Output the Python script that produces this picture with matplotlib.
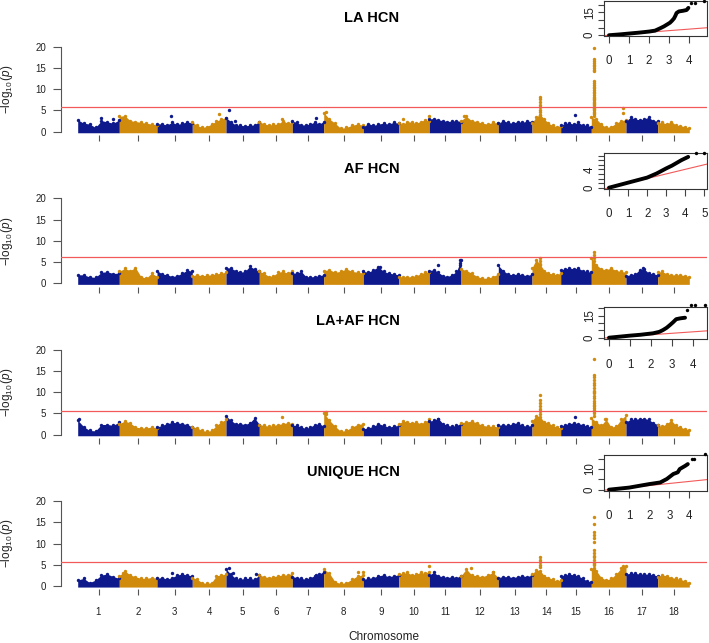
import numpy as np
import matplotlib
matplotlib.use("Agg")
import matplotlib.pyplot as plt

plt.rcParams["font.family"] = ["Liberation Sans", "DejaVu Sans"]
plt.rcParams["mathtext.fontset"] = "custom"
plt.rcParams["mathtext.rm"] = "Liberation Sans"
plt.rcParams["mathtext.it"] = "Liberation Sans:italic"

BLUE = "#0E1A8C"
ORANGE = "#D08A0C"
RED = "#F25A5A"
TXT = "#222222"

# chromosome lengths (arbitrary units)
CHROM_LEN = [41.6, 37.7, 35.3, 33.7, 33.3, 33.0, 31.4, 39.6, 35.4,
             30.6, 31.7, 37.3, 33.7, 28.7, 30.6, 34.7, 31.7, 31.6]
CHROM_LABELS = [str(i) for i in range(1, 19)]

PANELS = ["LA", "AF", "LA+AF", "UNIQUE"]
THRESH = [5.74, 6.1, 5.55, 5.73]

# upper envelope of -log10(p) along each chromosome
LA_ENV = [
    [2.8, 2.0, 1.8, 1.0, 2.6, 2.3, 2.0, 2.8],
    [3.6, 3.8, 2.6, 2.4, 2.2, 2.0, 1.8, 1.6],
    [1.9, 1.8, 1.6, 2.2, 1.7, 2.0, 2.3, 2.0],
    [2.2, 1.5, 1.0, 1.2, 1.8, 2.5, 3.0, 3.2],
    [3.3, 2.4, 1.6, 1.5, 1.4, 1.5, 1.6, 2.4],
    [2.4, 1.8, 1.6, 1.7, 1.8, 2.6, 2.0, 2.2],
    [2.5, 2.2, 1.6, 1.6, 1.8, 2.3, 1.8, 2.4],
    [4.5, 3.0, 2.0, 0.8, 1.0, 1.5, 1.8, 1.5],
    [1.2, 1.9, 1.5, 1.8, 2.0, 1.8, 2.2, 2.0],
    [2.0, 1.8, 2.4, 2.2, 2.0, 2.4, 2.8, 2.6],
    [3.0, 3.1, 2.8, 2.6, 2.4, 2.5, 2.6, 2.4],
    [2.6, 3.6, 2.6, 2.4, 2.0, 1.8, 2.2, 2.0],
    [2.0, 2.6, 2.2, 2.0, 2.4, 2.2, 2.5, 2.4],
    [2.0, 3.5, 4.0, 3.0, 2.0, 1.5, 1.2, 1.4],
    [1.5, 2.0, 2.0, 1.8, 2.2, 1.6, 1.5, 1.2],
    [3.4, 3.0, 1.8, 1.0, 1.2, 2.0, 2.6, 2.8],
    [2.5, 3.4, 3.0, 2.8, 3.0, 3.4, 2.6, 2.5],
    [2.0, 2.2, 1.8, 2.4, 1.6, 1.4, 1.2, 0.8],
]
AF_ENV = [
    [2.0, 2.0, 1.5, 1.4, 2.6, 2.7, 2.3, 2.4],
    [2.8, 3.5, 3.0, 3.7, 1.6, 1.2, 2.4, 1.6],
    [3.0, 2.2, 2.0, 1.6, 1.8, 2.4, 3.1, 2.8],
    [1.8, 2.0, 1.8, 1.9, 2.0, 2.2, 2.4, 2.6],
    [3.7, 3.6, 3.0, 2.6, 2.8, 4.0, 3.4, 2.8],
    [2.8, 2.4, 1.6, 1.8, 2.6, 2.8, 2.4, 3.0],
    [2.4, 2.4, 2.8, 1.6, 1.5, 1.6, 1.8, 2.0],
    [3.0, 3.2, 2.6, 2.8, 3.4, 2.8, 2.6, 2.4],
    [2.8, 2.6, 3.2, 3.9, 2.8, 2.4, 2.2, 2.0],
    [1.5, 1.6, 1.5, 1.6, 1.8, 2.2, 2.6, 2.6],
    [3.0, 3.2, 2.6, 1.8, 1.6, 2.0, 2.8, 5.4],
    [3.4, 3.0, 2.4, 1.6, 1.2, 1.2, 1.6, 2.2],
    [4.2, 3.0, 2.2, 2.0, 2.2, 2.0, 1.8, 2.2],
    [3.6, 5.6, 4.4, 3.0, 2.4, 2.2, 2.0, 2.4],
    [3.2, 3.4, 3.6, 3.4, 3.6, 3.0, 2.8, 2.6],
    [6.0, 4.4, 3.4, 3.2, 3.6, 3.0, 2.8, 2.6],
    [1.8, 2.0, 2.2, 3.2, 3.4, 2.4, 2.2, 2.0],
    [2.6, 2.8, 2.2, 2.0, 2.0, 2.0, 1.8, 1.6],
]
LAAF_ENV = [
    [3.4, 1.9, 1.0, 0.9, 2.4, 2.4, 2.2, 3.0],
    [2.6, 3.2, 2.8, 1.8, 1.6, 1.6, 1.8, 1.6],
    [1.8, 2.2, 2.6, 2.9, 2.8, 2.6, 2.4, 1.8],
    [1.9, 1.6, 1.0, 0.8, 1.0, 2.2, 3.0, 3.6],
    [4.4, 3.4, 2.6, 2.6, 2.4, 2.8, 4.0, 2.4],
    [2.3, 2.2, 2.0, 2.2, 2.4, 2.6, 2.8, 2.6],
    [2.2, 2.2, 1.8, 1.5, 1.8, 2.4, 2.6, 2.0],
    [5.2, 3.4, 2.0, 0.8, 1.0, 1.8, 2.4, 2.6],
    [1.4, 1.6, 2.0, 2.6, 2.2, 1.8, 2.0, 2.2],
    [2.6, 3.2, 3.0, 2.8, 3.0, 2.6, 3.0, 3.6],
    [3.2, 3.4, 3.8, 2.6, 2.2, 2.0, 2.2, 2.6],
    [2.8, 3.0, 3.2, 2.8, 2.2, 2.0, 2.0, 1.8],
    [2.2, 2.4, 2.2, 2.6, 2.8, 2.2, 2.0, 2.2],
    [3.2, 4.5, 4.2, 3.0, 2.8, 2.2, 1.8, 1.6],
    [2.0, 2.4, 2.6, 2.8, 2.6, 2.4, 2.0, 1.8],
    [4.0, 3.0, 2.2, 3.6, 1.8, 2.0, 3.6, 4.6],
    [3.0, 3.6, 3.6, 3.8, 3.8, 3.6, 2.8, 2.4],
    [2.2, 2.0, 2.6, 3.4, 2.2, 1.8, 1.4, 1.2],
]
UNIQ_ENV = [
    [1.4, 1.8, 0.8, 1.4, 2.6, 2.8, 2.2, 1.8],
    [2.4, 3.6, 2.6, 2.2, 1.8, 1.8, 2.0, 1.8],
    [1.8, 2.0, 1.6, 2.0, 2.6, 2.8, 2.6, 2.4],
    [2.0, 1.6, 0.8, 0.6, 0.8, 2.4, 2.6, 2.8],
    [4.0, 2.8, 1.8, 1.6, 1.8, 1.8, 1.6, 2.6],
    [2.6, 2.2, 2.0, 2.2, 2.4, 2.6, 2.6, 3.0],
    [2.2, 2.0, 1.8, 1.6, 2.0, 2.4, 2.8, 3.4],
    [4.0, 3.0, 1.0, 0.6, 0.8, 1.6, 2.4, 2.6],
    [1.6, 1.8, 2.0, 2.4, 2.6, 2.2, 2.4, 2.6],
    [2.8, 3.0, 3.2, 2.6, 2.8, 3.2, 3.0, 3.4],
    [2.6, 3.2, 2.4, 2.2, 2.0, 2.2, 2.0, 2.4],
    [2.4, 4.0, 2.6, 2.4, 2.2, 2.6, 3.2, 2.0],
    [2.0, 2.2, 2.2, 2.0, 2.2, 2.4, 2.2, 2.6],
    [2.8, 3.8, 3.6, 2.4, 2.0, 1.6, 1.2, 1.4],
    [2.4, 2.6, 2.8, 2.6, 2.4, 1.8, 1.2, 1.0],
    [4.0, 3.6, 2.0, 1.4, 1.8, 2.8, 4.2, 4.6],
    [2.8, 3.0, 3.0, 2.8, 2.8, 2.8, 2.6, 2.4],
    [2.2, 2.6, 2.4, 2.0, 1.8, 1.6, 1.2, 0.8],
]

# isolated / stacked SNPs: (chromosome, relative position, values)
LA_HITS = [
    (1, 0.55, [3.2]), (1, 0.85, [3.1]), (3, 0.40, [3.7]), (4, 0.80, [4.2]),
    (5, 0.08, [5.0]), (5, 0.28, [2.6]), (6, 0.70, [3.1]), (7, 0.75, [3.2]),
    (8, 0.06, [4.6]), (10, 0.15, [3.0]), (10, 0.98, [3.7]), (12, 0.08, [3.8]),
    (14, 0.28, [8.2, 7.6, 7.0, 6.4, 5.8, 5.2, 4.6, 4.0]),
    (15, 0.48, [3.9]),
    (16, 0.07, [19.8, 17.0, 16.6, 16.2, 15.8, 15.4, 15.0, 14.6, 14.2, 11.4,
                11.0, 10.6, 10.2, 9.8, 9.4, 9.0, 8.6, 8.2, 7.8, 7.4, 7.0,
                6.6, 6.2, 5.8, 5.4, 5.0, 4.6, 4.2, 3.8]),
    (16, 0.09, [12.0, 8.0, 6.8, 5.6, 4.4]),
    (16, 0.90, [5.6, 4.4]),
]
AF_HITS = [
    (9, 0.47, [3.9]), (11, 0.28, [4.3]), (11, 0.97, [5.5, 4.8, 4.2]),
    (14, 0.28, [5.9, 5.2, 4.6]), (16, 0.07, [7.3, 6.6, 5.9, 5.2]),
    (17, 0.55, [3.5]),
]
LAAF_HITS = [
    (1, 0.03, [3.7]), (6, 0.70, [4.2]), (8, 0.05, [5.4, 4.8]), (11, 0.28, [3.8]),
    (14, 0.28, [9.3, 8.1, 7.4, 6.8, 6.1, 5.5, 4.9]),
    (15, 0.48, [4.1]),
    (16, 0.07, [17.9, 14.0, 13.5, 12.8, 12.2, 11.6, 11.0, 10.4, 9.8, 9.2,
                8.6, 8.0, 7.4, 6.8, 6.2, 5.6, 5.0, 4.4]),
    (16, 0.09, [10.0, 7.0, 5.8]),
    (16, 0.40, [3.8]),
]
UNIQ_HITS = [
    (2, 0.10, [3.0]), (3, 0.42, [3.0]), (5, 0.08, [4.2]), (5, 0.22, [3.0]),
    (5, 0.90, [2.8]), (7, 0.75, [2.6]), (8, 0.87, [3.2]), (8, 0.98, [3.4]),
    (10, 0.98, [4.7]), (12, 0.26, [4.2]), (12, 0.85, [3.4]),
    (14, 0.28, [6.9, 6.2, 5.6, 5.0, 4.4]),
    (16, 0.07, [16.3, 14.7, 12.8, 12.0, 11.2, 10.4, 8.5, 7.8, 6.9, 6.1,
                5.5, 4.9, 4.3, 3.8]),
    (16, 0.09, [7.0, 5.2]),
    (16, 0.90, [4.7, 4.2]),
]

# QQ insets: expected vs observed -log10(p)
QQ_LA_X = [0, 0.5, 1.0, 1.5, 2.0, 2.3, 2.55, 2.75, 2.9, 3.05, 3.15, 3.25,
           3.32, 3.38, 3.5, 3.7, 3.88, 3.97]
QQ_LA_Y = [0, 0.5, 1.1, 1.7, 2.4, 3.0, 4.5, 5.8, 7.0, 8.2, 9.5, 11.0,
           12.8, 14.6, 15.6, 16.0, 16.5, 17.9]
QQ_LA_TOP_X = [4.08, 4.3, 4.75]
QQ_LA_TOP_Y = [20.9, 21.3, 22.4]

QQ_AF_X = [0, 0.5, 1.0, 1.5, 2.0, 2.5, 3.0, 3.3, 3.55, 3.8, 4.0, 4.15]
QQ_AF_Y = [0, 0.55, 1.1, 1.65, 2.2, 3.1, 4.2, 4.8, 5.4, 6.0, 6.4, 6.7]
QQ_AF_TOP_X = [4.55, 5.0]
QQ_AF_TOP_Y = [7.5, 7.5]

QQ_LAAF_X = [0, 1.0, 1.5, 2.1, 2.4, 2.57, 2.75, 2.9, 3.05, 3.2, 3.4, 3.62]
QQ_LAAF_Y = [0, 1.4, 2.0, 3.0, 4.0, 5.2, 6.8, 8.6, 10.5, 12.6, 13.2, 13.6]
QQ_LAAF_TOP_X = [3.7, 3.89, 4.1, 4.56]
QQ_LAAF_TOP_Y = [18.9, 22.5, 22.5, 22.5]

QQ_UNIQ_X = [0, 1.0, 2.0, 2.55, 2.88, 3.2, 3.42, 3.52, 3.8, 3.92]
QQ_UNIQ_Y = [0, 1.0, 2.7, 3.5, 5.2, 7.6, 8.4, 10.0, 11.6, 12.4]
QQ_UNIQ_TOP_X = [4.13, 4.25, 4.8]
QQ_UNIQ_TOP_Y = [14.8, 14.8, 17.3]

W, H = 709, 643
fig = plt.figure(figsize=(W / 100, H / 100), dpi=100)

starts = np.concatenate([[0], np.cumsum(CHROM_LEN)[:-1]])
mids = starts + np.array(CHROM_LEN) / 2

envs = [LA_ENV, AF_ENV, LAAF_ENV, UNIQ_ENV]
hits = [LA_HITS, AF_HITS, LAAF_HITS, UNIQ_HITS]
qq = [
    (QQ_LA_X, QQ_LA_Y, QQ_LA_TOP_X, QQ_LA_TOP_Y),
    (QQ_AF_X, QQ_AF_Y, QQ_AF_TOP_X, QQ_AF_TOP_Y),
    (QQ_LAAF_X, QQ_LAAF_Y, QQ_LAAF_TOP_X, QQ_LAAF_TOP_Y),
    (QQ_UNIQ_X, QQ_UNIQ_Y, QQ_UNIQ_TOP_X, QQ_UNIQ_TOP_Y),
]

# layout (pixels of the 709x643 canvas)
main_bottom = [135.1, 286.7, 438.1, 589.4]
title_base = [21.7, 173.3, 325.0, 476.0]
inset_box = [(0.7, 36.0), (152.7, 189.0), (306.7, 339.3), (455.0, 490.7)]
inset_xlim = [(-0.235, 4.885), (-0.246, 5.12), (-0.224, 4.652), (-0.234, 4.86)]
inset_ylim = [(-0.5, 22.6), (-0.28, 7.61), (-1.09, 21.1), (-0.5, 16.8)]
inset_yticks = [[0, 5, 10, 15, 20], list(range(8)), [0, 5, 10, 15, 20], [0, 5, 10, 15]]
inset_ylabels = [{0: "0", 15: "15"}, {0: "0", 4: "4"}, {0: "0", 15: "15"}, {0: "0", 10: "10"}]
inset_xticks = [[0, 1, 2, 3, 4], [0, 1, 2, 3, 4, 5], [0, 1, 2, 3, 4], [0, 1, 2, 3, 4]]

for k in range(4):
    ax = fig.add_axes([61 / W, 1 - main_bottom[k] / H, 646 / W, 91.8 / H])
    for i in range(18):
        color = BLUE if i % 2 == 0 else ORANGE
        env = envs[k][i]
        xs = np.linspace(starts[i], starts[i] + CHROM_LEN[i], len(env))
        ax.fill_between(xs, -0.25, env, color=color, lw=0, zorder=2)
        ax.scatter(xs, env, s=6, color=color, lw=0, zorder=3)
    for c, rel, vals in hits[k]:
        color = BLUE if (c - 1) % 2 == 0 else ORANGE
        x = starts[c - 1] + rel * CHROM_LEN[c - 1]
        ax.scatter([x] * len(vals), vals, s=6, color=color, lw=0, zorder=3)
    ax.axhline(THRESH[k], color=RED, lw=0.9, zorder=4)

    ax.set_xlim(-16.7, 629.3)
    ax.set_ylim(-0.8, 20.8)
    for s in ["top", "right", "bottom"]:
        ax.spines[s].set_visible(False)
    ax.spines["left"].set_bounds(0, 20)
    ax.spines["left"].set_color("#555555")
    ax.spines["left"].set_linewidth(0.8)
    ax.set_yticks([0, 5, 10, 15, 20])
    ax.set_xticks(mids)
    ax.set_xticklabels(CHROM_LABELS)
    ax.tick_params(axis="y", length=5.5, width=0.8, color="#555555",
                   pad=5.0, labelsize=7, labelcolor=TXT)
    ax.tick_params(axis="x", length=4, width=0.8, color="#555555",
                   pad=9.0, labelsize=7, labelcolor=TXT,
                   labelbottom=(k == 3))
    ax.set_ylabel(r"$-\log_{10}(p)$", fontsize=8.5, color=TXT)
    ax.yaxis.set_label_coords(-0.071, 0.5)
    ax.patch.set_alpha(0)

    fig.text(399.5 / W, 1 - title_base[k] / H, PANELS[k] + " HCN",
             ha="right", va="baseline", fontsize=10.5, fontweight="bold",
             color="black")

    # QQ inset
    top, bot = inset_box[k]
    ia = fig.add_axes([604.3 / W, 1 - bot / H, 102.4 / W, (bot - top) / H])
    qx, qy, tx, ty = qq[k]
    ia.axline((0, 0), slope=1, color=RED, lw=0.8, zorder=2)
    ia.plot(qx, qy, color="black", lw=2.8, zorder=3, solid_capstyle="round")
    ia.scatter(tx, ty, s=6, color="black", lw=0, zorder=3, clip_on=False)
    ia.set_xlim(*inset_xlim[k])
    ia.set_ylim(*inset_ylim[k])
    ia.set_xticks(inset_xticks[k])
    ia.set_yticks(inset_yticks[k])
    ia.set_yticklabels([inset_ylabels[k].get(t, "") for t in inset_yticks[k]],
                       rotation=90, va="center")
    for s in ia.spines.values():
        s.set_linewidth(0.8)
        s.set_color("#333333")
    ia.tick_params(axis="x", length=5, width=0.8, color="#444444", pad=9,
                   labelsize=8.3, labelcolor=TXT)
    ia.tick_params(axis="y", length=4.5, width=0.8, color="#444444", pad=1.5,
                   labelsize=8.3, labelcolor=TXT)

fig.text(383.5 / W, 1 - 637 / H, "Chromosome", ha="center", va="center",
         fontsize=8.5, color=TXT)

fig.savefig("out.png", dpi=100)
